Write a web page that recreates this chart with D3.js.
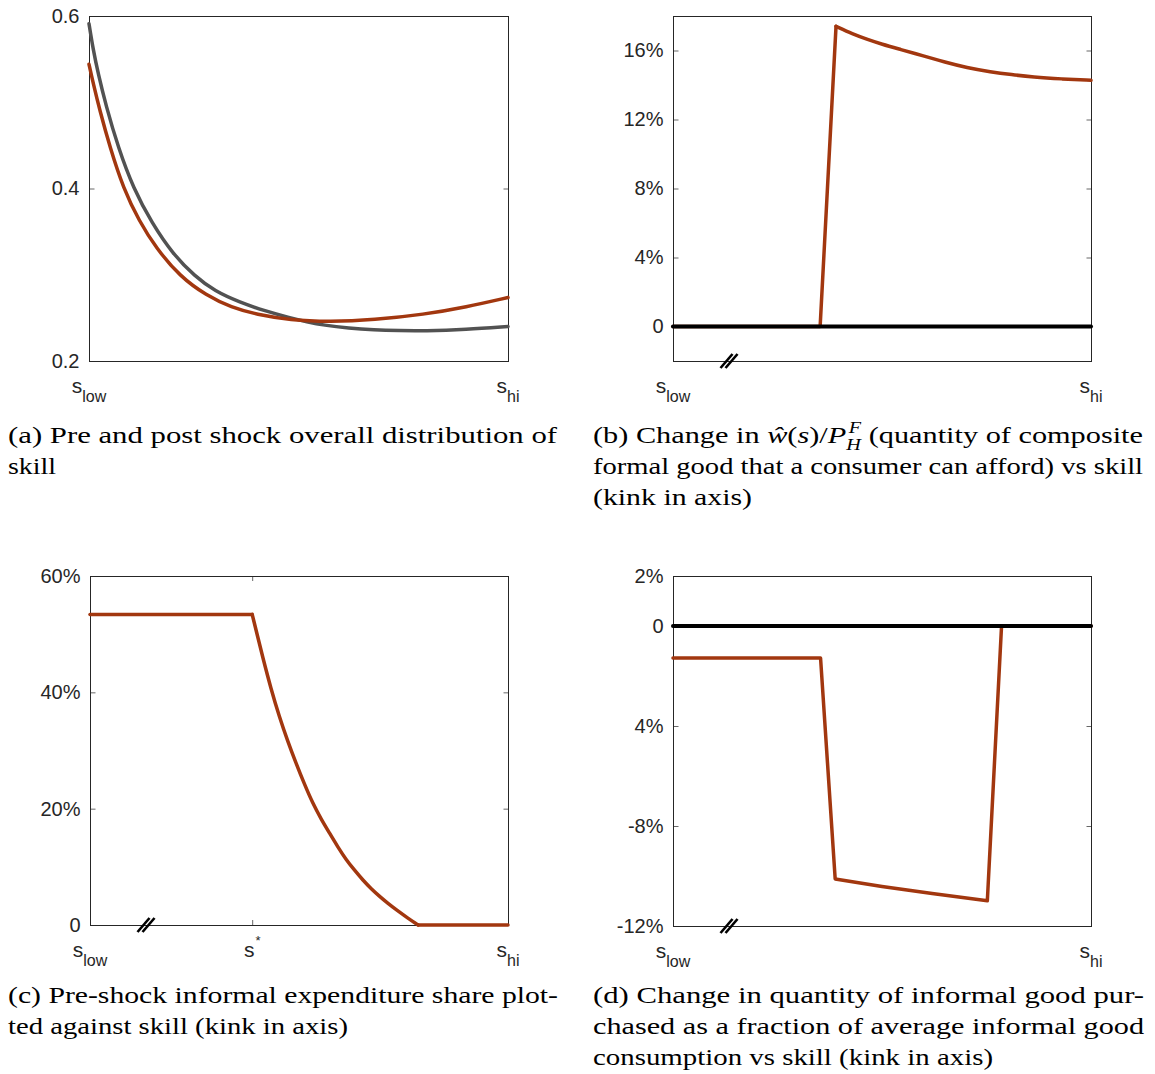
<!DOCTYPE html>
<html>
<head>
<meta charset="utf-8">
<script src="https://cdn.jsdelivr.net/npm/d3@7"></script>
<style>
  body { margin: 0; background: #fff; }
  svg { display: block; }
</style>
</head>
<body>
<div id="chart"></div>
<script>
// skill is expressed as a fraction of the way from s_low to s_hi

// (a) overall skill distribution, pre (grey) and post (red) shock
const skillPre = [0, 0.01, 0.022, 0.04, 0.07, 0.106, 0.15, 0.2, 0.253, 0.3, 0.36, 0.42, 0.48, 0.52, 0.56, 0.62, 0.68, 0.74, 0.8, 0.9, 1.0];
const densityPre = [0.591, 0.561, 0.533, 0.497, 0.447, 0.400, 0.360, 0.324, 0.298, 0.281, 0.268, 0.258, 0.250, 0.2455, 0.2415, 0.238, 0.236, 0.2352, 0.2349, 0.2365, 0.240];
const skillPost = [0, 0.01, 0.026, 0.05, 0.082, 0.12, 0.16, 0.217, 0.28, 0.34, 0.4, 0.48, 0.575, 0.68, 0.8, 0.9, 1.0];
const densityPost = [0.544, 0.522, 0.490, 0.448, 0.400, 0.362, 0.331, 0.298, 0.276, 0.262, 0.254, 0.2475, 0.2455, 0.2477, 0.254, 0.2625, 0.2736];

// (b) change in w(s)/P_H^F, percent
const skillB = [0, 0.352, 0.39, 0.43, 0.463, 0.50, 0.543, 0.60, 0.65, 0.703, 0.76, 0.81, 0.861, 0.93, 1.0];
const wageChange = [0, 0, 17.4, 16.95, 16.66, 16.36, 16.07, 15.68, 15.33, 15.0, 14.76, 14.6, 14.46, 14.35, 14.27];

// (c) pre-shock informal expenditure share, percent
const skillC = [0, 0.388, 0.40, 0.413, 0.433, 0.453, 0.473, 0.493, 0.513, 0.533, 0.553, 0.573, 0.593, 0.613, 0.633, 0.653, 0.673, 0.693, 0.713, 0.733, 0.76, 0.785, 1.0];
const informalShare = [53.4, 53.4, 49.9, 46.1, 40.6, 35.8, 31.6, 27.8, 24.2, 20.9, 18.2, 15.8, 13.4, 11.2, 9.4, 7.7, 6.2, 4.9, 3.7, 2.6, 1.2, 0, 0];

// (d) change in informal good quantity, percent of average
const skillD = [0, 0.353, 0.388, 0.50, 0.62, 0.752, 0.786, 1.0];
const informalChange = [-1.28, -1.28, -10.12, -10.42, -10.70, -10.99, 0, 0];

// reference zero line
const skillZero = [0, 1];
const zeroLine = [0, 0];

// axis kink and s* positions
const kinkAt = 0.134;
const sStar = 0.388;

// tick values and labels
const yTicksA = [0.2, 0.4, 0.6];
const yLabelsA = ['0.2', '0.4', '0.6'];
const yTicksB = [0, 4, 8, 12, 16];
const yLabelsB = ['0', '4%', '8%', '12%', '16%'];
const yTicksC = [0, 20, 40, 60];
const yLabelsC = ['0', '20%', '40%', '60%'];
const yTicksD = [-12, -8, -4, 0, 2];
const yLabelsD = ['-12%', '-8%', '4%', '0', '2%'];

const xLabelsAB = [{ v: 0, base: 's', sub: 'low' }, { v: 1, base: 's', sub: 'hi' }];
const xLabelsC = [{ v: 0, base: 's', sub: 'low' }, { v: sStar, base: 's', sup: '*' }, { v: 1, base: 's', sub: 'hi' }];

// captions ({m} marks the inline maths)
const captionA = ['(a) Pre and post shock overall distribution of', 'skill'];
const captionB = ['(b) Change in {m} (quantity of composite', 'formal good that a consumer can afford) vs skill', '(kink in axis)'];
const captionC = ['(c) Pre-shock informal expenditure share plot-', 'ted against skill (kink in axis)'];
const captionD = ['(d) Change in quantity of informal good pur-', 'chased as a fraction of average informal good', 'consumption vs skill (kink in axis)'];

const RED = '#a2370f';
const GREY = '#525252';
const AXIS = '#262626';
const SANS = '"Liberation Sans", Arial, Helvetica, sans-serif';
const SERIF = '"Liberation Serif", "Times New Roman", serif';

const svg = d3.select('#chart').append('svg')
    .attr('width', 1155)
    .attr('height', 1074);

// smooth: [from, to] index range drawn with a smoothing curve, the rest straight
const panels = [
    {
        left: 89, right: 508, top: 16, bottom: 361,
        yDomain: [0.2, 0.6], yTicks: yTicksA, yLabels: yLabelsA, xLabels: xLabelsAB, kink: false,
        series: [
            { x: skillPre, y: densityPre, color: GREY, width: 3.5, smooth: [0, skillPre.length - 1] },
            { x: skillPost, y: densityPost, color: RED, width: 3.5, smooth: [0, skillPost.length - 1] }
        ]
    },
    {
        left: 673, right: 1091, top: 16, bottom: 361,
        yDomain: [-2, 18], yTicks: yTicksB, yLabels: yLabelsB, xLabels: xLabelsAB, kink: true,
        series: [
            { x: skillB, y: wageChange, color: RED, width: 3.5, smooth: [2, skillB.length - 1] },
            { x: skillZero, y: zeroLine, color: '#000', width: 4 }
        ]
    },
    {
        left: 90, right: 508, top: 576, bottom: 925,
        yDomain: [0, 60], yTicks: yTicksC, yLabels: yLabelsC, xLabels: xLabelsC, kink: true, xTick: sStar,
        series: [
            { x: skillC, y: informalShare, color: RED, width: 3.5, smooth: [1, skillC.length - 2] }
        ]
    },
    {
        left: 673, right: 1091, top: 576, bottom: 926,
        yDomain: [-12, 2], yTicks: yTicksD, yLabels: yLabelsD, xLabels: xLabelsAB, kink: true,
        series: [
            { x: skillD, y: informalChange, color: RED, width: 3.5 },
            { x: skillZero, y: zeroLine, color: '#000', width: 4 }
        ]
    }
];

function drawPanel(p) {
    const x = d3.scaleLinear().domain([0, 1]).range([p.left, p.right]);
    const y = d3.scaleLinear().domain(p.yDomain).range([p.bottom, p.top]);
    const g = svg.append('g');

    // box
    g.append('rect')
        .attr('x', p.left + 0.5)
        .attr('y', p.top + 0.5)
        .attr('width', p.right - p.left)
        .attr('height', p.bottom - p.top)
        .attr('fill', 'none')
        .attr('stroke', AXIS)
        .attr('stroke-width', 1);

    // y ticks, pointing inwards on both sides
    const left = g.append('g')
        .attr('transform', `translate(${p.left + 0.5},0)`)
        .call(d3.axisLeft(y).tickValues(p.yTicks)
            .tickFormat((d, i) => p.yLabels[i])
            .tickSizeInner(-5).tickSizeOuter(0).tickPadding(10));
    left.select('.domain').remove();
    left.selectAll('text')
        .attr('fill', AXIS)
        .style('font-family', SANS)
        .style('font-size', '20px');
    left.selectAll('line').attr('stroke', AXIS).attr('stroke-width', 0.7);

    const right = g.append('g')
        .attr('transform', `translate(${p.right + 0.5},0)`)
        .call(d3.axisRight(y).tickValues(p.yTicks).tickFormat('')
            .tickSizeInner(-5).tickSizeOuter(0));
    right.select('.domain').remove();
    right.selectAll('line').attr('stroke', AXIS).attr('stroke-width', 0.7);

    if (p.xTick !== undefined) {
        [[p.bottom, -5], [p.top, 5]].forEach(([yy, len]) => {
            g.append('line')
                .attr('x1', x(p.xTick) + 0.5).attr('x2', x(p.xTick) + 0.5)
                .attr('y1', yy).attr('y2', yy + len)
                .attr('stroke', AXIS).attr('stroke-width', 0.7);
        });
    }

    // x labels
    p.xLabels.forEach(l => {
        const t = g.append('text')
            .attr('x', x(l.v))
            .attr('y', p.bottom + 32)
            .attr('text-anchor', 'middle')
            .style('font-family', SANS)
            .style('font-size', '21px')
            .attr('fill', AXIS);
        t.append('tspan').text(l.base);
        if (l.sub) t.append('tspan').style('font-size', '16px').attr('dy', 9).text(l.sub);
        if (l.sup) t.append('tspan').style('font-size', '13px').attr('dy', -12).attr('dx', 1).text(l.sup);
    });

    // data
    p.series.forEach(s => {
        const pts = d3.zip(s.x, s.y);
        const pieces = [];
        if (s.smooth) {
            const [a, b] = s.smooth;
            if (a > 0) pieces.push([pts.slice(0, a + 1), d3.curveLinear]);
            pieces.push([pts.slice(a, b + 1), d3.curveBasis]);
            if (b < pts.length - 1) pieces.push([pts.slice(b), d3.curveLinear]);
        } else {
            pieces.push([pts, d3.curveLinear]);
        }
        pieces.forEach(([seg, curve]) => {
            g.append('path')
                .datum(seg)
                .attr('fill', 'none')
                .attr('stroke', s.color)
                .attr('stroke-width', s.width)
                .attr('stroke-linejoin', 'round')
                .attr('stroke-linecap', 'round')
                .attr('d', d3.line()
                    .x(d => x(d[0]))
                    .y(d => y(d[1]))
                    .curve(curve));
        });
    });

    // axis break marks
    if (p.kink) {
        const cx = x(kinkAt);
        [-2.5, 2.5].forEach(off => {
            g.append('line')
                .attr('x1', cx + off - 6).attr('y1', p.bottom + 7)
                .attr('x2', cx + off + 6).attr('y2', p.bottom - 7)
                .attr('stroke', '#000')
                .attr('stroke-width', 2.6);
        });
    }
}

panels.forEach(drawPanel);

// captions
function addMath(t) {
    t.append('tspan').attr('font-style', 'italic').text('ŵ');
    t.append('tspan').text('(');
    t.append('tspan').attr('font-style', 'italic').text('s');
    t.append('tspan').text(')/');
    t.append('tspan').attr('font-style', 'italic').text('P');
    const h = t.append('tspan').attr('font-style', 'italic').style('font-size', '16px').attr('dy', 7).text('H');
    const wH = h.node().getComputedTextLength();
    const f = t.append('tspan').attr('font-style', 'italic').style('font-size', '16px')
        .attr('dx', -wH + 2).attr('dy', -17).text('F');
    const wF = f.node().getComputedTextLength();
    return { dx: Math.max(0, wH - wF - 2) + 6, dy: 10 };
}

function drawCaption(lines, widths, x0, y0) {
    lines.forEach((line, i) => {
        const t = svg.append('text')
            .attr('x', x0)
            .attr('y', y0 + i * 31)
            .style('font-family', SERIF)
            .style('font-size', '24px')
            .attr('fill', '#000');
        const parts = line.split('{m}');
        parts.forEach((part, j) => {
            if (j > 0) {
                const back = addMath(t);
                t.append('tspan').attr('dx', back.dx).attr('dy', back.dy).text(part.trimStart());
            } else {
                t.append('tspan').text(part);
            }
        });
        t.attr('textLength', widths[i]).attr('lengthAdjust', 'spacingAndGlyphs');
    });
}

drawCaption(captionA, [549, 48], 8, 443);
drawCaption(captionB, [550, 550, 159], 593, 443);
drawCaption(captionC, [550, 340], 8, 1003);
drawCaption(captionD, [551, 551, 400], 593, 1003);
</script>
</body>
</html>
